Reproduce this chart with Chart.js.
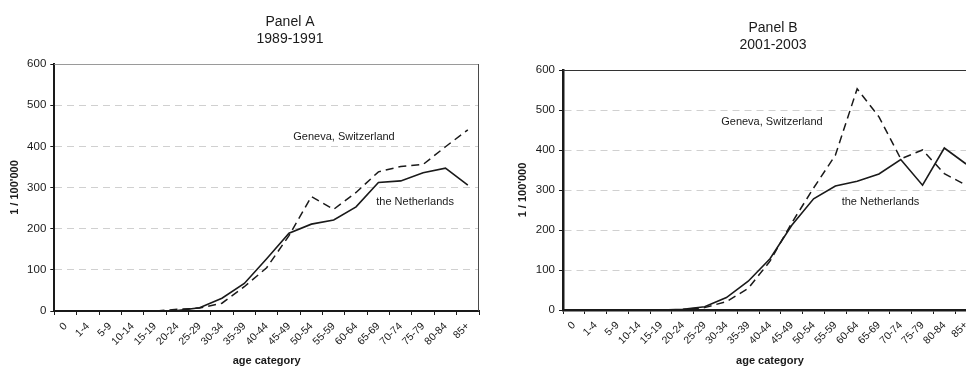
<!DOCTYPE html>
<html>
<head>
<meta charset="utf-8">
<script src="https://cdn.jsdelivr.net/npm/chart.js@4.4.1/dist/chart.umd.min.js"></script>
<style>
  html, body { margin: 0; padding: 0; background: #fff; overflow: hidden; width: 966px; height: 369px; }
  .panel { position: absolute; top: 0; height: 369px; }
  #wrapA { left: 0; width: 483px; }
  #wrapB { left: 483px; width: 500px; }
</style>
</head>
<body>
<div class="panel" id="wrapA"><canvas id="panelA" width="483" height="369"></canvas></div>
<div class="panel" id="wrapB"><canvas id="panelB" width="500" height="369"></canvas></div>
<script>
// Age groups on the x axis
const ageCategories = ['0', '1-4', '5-9', '10-14', '15-19', '20-24', '25-29', '30-34', '35-39',
  '40-44', '45-49', '50-54', '55-59', '60-64', '65-69', '70-74', '75-79', '80-84', '85+'];

// Rate axis ticks (per 100'000)
const rateTicks = [0, 100, 200, 300, 400, 500, 600];

// Panel A, 1989-1991
const netherlands8991 = [0, 0, 0, 0, 0.5, 1, 8, 31, 67, 127, 189, 211, 221, 253, 312, 316, 336, 347, 306];
const geneva8991 = [0, 0, 0, 0, 0, 4, 7, 19, 59, 105, 183, 278, 247, 288, 338, 351, 356, 399, 440];

// Panel B, 2001-2003
const netherlands0103 = [0, 0, 0, 0, 0, 2, 8, 31, 72, 128, 212, 278, 310, 322, 340, 376, 312, 405, 365];
const geneva0103 = [0, 0, 0, 0, 0, 1, 6, 21, 54, 122, 218, 305, 387, 553, 483, 378, 400, 341, 312];

const FONT = "'Liberation Sans', Arial, Helvetica, sans-serif";
const INK = '#1a1a1a';
const GRID_DASH = [7, 5];

// Draws the two-line panel heading, the plot frame's top/right edges and the series notes
const panelText = {
  id: 'panelText',
  afterDatasetsDraw(chart, args, opts) {
    const { ctx, chartArea: a, scales } = chart;
    ctx.save();
    // frame top and right
    ctx.lineWidth = opts.frameWidth;
    ctx.strokeStyle = opts.topColor;
    ctx.beginPath();
    ctx.moveTo(a.left, a.top + 0.5);
    ctx.lineTo(a.right, a.top + 0.5);
    ctx.stroke();
    ctx.strokeStyle = opts.rightColor;
    ctx.beginPath();
    ctx.moveTo(a.right - 0.5, a.top);
    ctx.lineTo(a.right - 0.5, a.bottom);
    ctx.stroke();
    // series notes placed in data coordinates
    ctx.fillStyle = INK;
    ctx.font = '11px ' + FONT;
    ctx.textAlign = 'center';
    ctx.textBaseline = 'middle';
    opts.notes.forEach(n => {
      ctx.fillText(n.text, scales.x.getPixelForValue(n.at), scales.y.getPixelForValue(n.value));
    });
    // heading
    ctx.font = '14px ' + FONT;
    opts.heading.forEach((line, i) => {
      ctx.fillText(line, opts.headingX, opts.headingY + i * 17);
    });
    ctx.restore();
  }
};

function makePanel(canvasId, cfg) {
  return new Chart(document.getElementById(canvasId), {
    type: 'line',
    data: {
      labels: ageCategories,
      datasets: [
        {
          label: 'the Netherlands',
          data: cfg.netherlands,
          borderColor: INK,
          borderWidth: 1.6,
          pointRadius: 0,
          tension: 0,
          fill: false
        },
        {
          label: 'Geneva, Switzerland',
          data: cfg.geneva,
          borderColor: INK,
          borderWidth: 1.5,
          borderDash: [8, 5],
          pointRadius: 0,
          tension: 0,
          fill: false
        }
      ]
    },
    options: {
      responsive: false,
      animation: false,
      layout: { padding: cfg.padding },
      plugins: {
        legend: { display: false },
        title: { display: false },
        tooltip: { enabled: false },
        panelText: {
          heading: cfg.heading,
          headingX: cfg.headingX,
          headingY: cfg.headingY,
          notes: cfg.notes,
          frameWidth: 1,
          topColor: cfg.topColor,
          rightColor: cfg.rightColor
        }
      },
      scales: {
        x: {
          type: 'category',
          offset: true,
          afterFit(scale) { scale.height = cfg.xHeight; },
          grid: {
            offset: true,
            drawOnChartArea: false,
            drawTicks: true,
            tickLength: 4,
            tickColor: INK,
            tickWidth: 1
          },
          border: { display: true, color: INK, width: cfg.axisWidth },
          ticks: {
            autoSkip: false,
            minRotation: 45,
            maxRotation: 45,
            padding: 5,
            color: INK,
            font: { family: FONT, size: 10.5 }
          },
          title: {
            display: true,
            text: 'age category',
            color: INK,
            font: { family: FONT, size: 11, weight: 'bold' },
            padding: { top: 0, bottom: 1 }
          }
        },
        y: {
          min: rateTicks[0],
          max: rateTicks[rateTicks.length - 1],
          afterFit(scale) { scale.width = cfg.yWidth; },
          afterBuildTicks(scale) { scale.ticks = rateTicks.map(v => ({ value: v })); },
          grid: {
            drawTicks: true,
            tickLength: 4,
            tickColor: INK,
            tickWidth: 1,
            tickBorderDash: [],
            borderDash: GRID_DASH,
            lineWidth: 1,
            color: ctx => (ctx.tick && ctx.tick.value > 0 && ctx.tick.value < 600) ? '#d0d0d0' : 'rgba(0,0,0,0)'
          },
          border: { display: true, color: INK, width: cfg.axisWidth, dash: GRID_DASH },
          ticks: {
            padding: 4,
            color: INK,
            font: { family: FONT, size: 11.5 }
          },
          title: {
            display: true,
            text: "1 / 100'000",
            color: INK,
            font: { family: FONT, size: 11, weight: 'bold' },
            padding: { top: 4, bottom: 0 }
          }
        }
      }
    },
    plugins: [panelText]
  });
}

makePanel('panelA', {
  netherlands: netherlands8991,
  geneva: geneva8991,
  padding: { left: 4.4, top: 64, right: 4, bottom: 0 },
  yWidth: 49.9,
  xHeight: 58,
  axisWidth: 2,
  heading: ['Panel A', '1989-1991'],
  headingX: 290,
  headingY: 22,
  topColor: '#9a9a9a',
  rightColor: '#4a4a4a',
  notes: [
    { text: 'Geneva, Switzerland', at: 12.46, value: 423 },
    { text: 'the Netherlands', at: 15.64, value: 265 }
  ]
});

makePanel('panelB', {
  netherlands: netherlands0103,
  geneva: geneva0103,
  padding: { left: 29.4, top: 70, right: 6, bottom: 0 },
  yWidth: 50.6,
  xHeight: 59,
  axisWidth: 2.5,
  heading: ['Panel B', '2001-2003'],
  headingX: 290,
  headingY: 28,
  topColor: '#333333',
  rightColor: '#333333',
  notes: [
    { text: 'Geneva, Switzerland', at: 9.09, value: 471 },
    { text: 'the Netherlands', at: 14.07, value: 269 }
  ]
});
</script>
</body>
</html>
